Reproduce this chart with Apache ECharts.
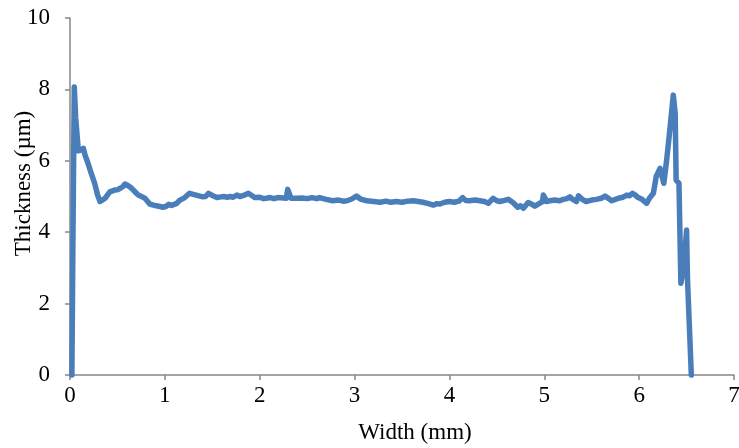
<!DOCTYPE html>
<html>
<head>
<meta charset="utf-8">
<script src="https://cdn.jsdelivr.net/npm/echarts@6/dist/echarts.min.js"></script>
<style>
  html, body { margin: 0; padding: 0; background: #fff; }
  #chart { width: 739px; height: 448px; }
</style>
</head>
<body>
<div id="chart"></div>
<script>
// Coating thickness profile across the strip width
const widthMm = [
  0.02, 0.03, 0.045, 0.06, 0.088, 0.11, 0.14, 0.16, 0.19, 0.22,
  0.26, 0.29, 0.316, 0.34, 0.37, 0.40, 0.42, 0.47, 0.50, 0.53,
  0.56, 0.58, 0.61, 0.65, 0.69, 0.72, 0.76, 0.79, 0.84, 0.88,
  0.91, 0.95, 0.98, 1.01, 1.04, 1.07, 1.09, 1.12, 1.16, 1.21,
  1.26, 1.30, 1.33, 1.37, 1.40, 1.43, 1.46, 1.50, 1.55, 1.59,
  1.62, 1.66, 1.69, 1.72, 1.76, 1.79, 1.83, 1.88, 1.92, 1.95,
  2.00, 2.04, 2.07, 2.11, 2.15, 2.19, 2.21, 2.28, 2.295, 2.315,
  2.33, 2.39, 2.45, 2.50, 2.55, 2.60, 2.63, 2.70, 2.77, 2.83,
  2.88, 2.92, 2.97, 3.02, 3.07, 3.13, 3.20, 3.27, 3.33, 3.38,
  3.44, 3.50, 3.56, 3.62, 3.67, 3.72, 3.78, 3.83, 3.87, 3.90,
  3.95, 4.00, 4.05, 4.10, 4.14, 4.17, 4.21, 4.27, 4.32, 4.37,
  4.41, 4.46, 4.50, 4.53, 4.58, 4.62, 4.67, 4.72, 4.75, 4.78,
  4.83, 4.87, 4.90, 4.95, 4.98, 4.99, 5.01, 5.02, 5.06, 5.11,
  5.16, 5.20, 5.24, 5.27, 5.30, 5.34, 5.36, 5.40, 5.44, 5.50,
  5.55, 5.60, 5.64, 5.68, 5.71, 5.75, 5.78, 5.83, 5.87, 5.90,
  5.93, 5.96, 5.99, 6.03, 6.08, 6.11, 6.15, 6.18, 6.22, 6.26,
  6.29, 6.32, 6.36, 6.38, 6.39, 6.42, 6.44, 6.47, 6.50, 6.51,
  6.55
];
const thicknessUm = [
  0.00, 3.50, 8.07, 7.20, 6.28, 6.30, 6.35, 6.15, 5.93, 5.68,
  5.37, 5.05, 4.86, 4.90, 4.95, 5.06, 5.13, 5.18, 5.19, 5.23,
  5.28, 5.35, 5.31, 5.23, 5.12, 5.04, 4.99, 4.95, 4.79, 4.76,
  4.74, 4.72, 4.70, 4.72, 4.78, 4.75, 4.74, 4.80, 4.90, 4.97,
  5.09, 5.06, 5.04, 5.01, 4.99, 5.00, 5.09, 5.03, 4.97, 4.99,
  5.00, 4.98, 5.00, 4.98, 5.04, 5.00, 5.03, 5.09, 5.02, 4.97,
  4.98, 4.94, 4.95, 4.97, 4.94, 4.97, 4.95, 4.95, 5.20, 5.22,
  4.95, 4.95, 4.96, 4.94, 4.97, 4.94, 4.97, 4.92, 4.88, 4.90,
  4.87, 4.88, 4.93, 5.01, 4.92, 4.88, 4.86, 4.84, 4.87, 4.84,
  4.86, 4.84, 4.87, 4.88, 4.86, 4.84, 4.80, 4.76, 4.80, 4.79,
  4.84, 4.86, 4.84, 4.87, 4.97, 4.89, 4.88, 4.90, 4.88, 4.86,
  4.81, 4.95, 4.88, 4.86, 4.89, 4.92, 4.83, 4.70, 4.74, 4.67,
  4.83, 4.78, 4.73, 4.81, 4.85, 5.04, 4.95, 4.86, 4.88, 4.90,
  4.88, 4.92, 4.94, 4.99, 4.92, 4.86, 5.02, 4.92, 4.86, 4.90,
  4.92, 4.95, 5.01, 4.94, 4.88, 4.92, 4.95, 4.98, 5.04, 5.02,
  5.09, 5.04, 4.97, 4.92, 4.81, 4.96, 5.09, 5.56, 5.79, 5.37,
  6.02, 6.77, 7.84, 7.33, 5.46, 5.37, 2.57, 3.03, 4.06, 2.66,
  0.00
];

const xTicks = [0, 1, 2, 3, 4, 5, 6, 7];
const yTicks = [0, 2, 4, 6, 8, 10];

const serif = '"Liberation Serif", "Times New Roman", serif';
const axisGray = '#868686';

const chart = echarts.init(document.getElementById('chart'), null, { renderer: 'canvas' });

chart.setOption({
  animation: false,
  backgroundColor: '#ffffff',
  grid: {
    left: 70, right: 5, top: 18, bottom: 73,
    containLabel: false,
    outerBoundsMode: 'none'
  },
  xAxis: {
    type: 'value',
    min: xTicks[0],
    max: xTicks[xTicks.length - 1],
    interval: 1,
    name: 'Width (mm)',
    nameLocation: 'middle',
    nameGap: 46,
    nameMoveOverlap: false,
    nameTextStyle: { fontFamily: serif, fontSize: 23, color: '#000', padding: [0, 0, 0, 26] },
    axisLine: { show: true, lineStyle: { color: axisGray, width: 1.5 } },
    axisTick: { show: true, inside: false, length: 5, lineStyle: { color: axisGray, width: 1.5 } },
    axisLabel: { fontFamily: serif, fontSize: 23, color: '#000', margin: 9 },
    splitLine: { show: false }
  },
  yAxis: {
    type: 'value',
    min: yTicks[0],
    max: yTicks[yTicks.length - 1],
    interval: 2,
    name: 'Thickness (µm)',
    nameLocation: 'middle',
    nameGap: 35,
    nameMoveOverlap: false,
    nameTextStyle: { fontFamily: serif, fontSize: 23, color: '#000', padding: [0, 0, 0, 26] },
    axisLine: { show: true, lineStyle: { color: axisGray, width: 1.5 } },
    axisTick: { show: true, inside: false, length: 5, lineStyle: { color: axisGray, width: 1.5 } },
    axisLabel: { fontFamily: serif, fontSize: 23, color: '#000', margin: 20 },
    splitLine: { show: false }
  },
  series: [{
    type: 'line',
    data: widthMm.map((w, i) => [w, thicknessUm[i]]),
    showSymbol: false,
    smooth: false,
    clip: false,
    lineStyle: { color: '#4A7EBB', width: 5.5, join: 'round', cap: 'round' }
  }]
});
</script>
</body>
</html>
